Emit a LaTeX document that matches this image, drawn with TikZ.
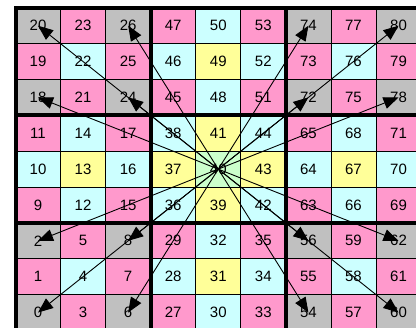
\documentclass[tikz,border=0pt]{standalone}
\usepackage{fontspec}
\setmainfont{Liberation Sans}
\usetikzlibrary{arrows.meta}
\definecolor{shade0}{HTML}{C0C0C0}
\definecolor{shade1}{HTML}{FF99CC}
\definecolor{shade2}{HTML}{CCFFFF}
\definecolor{shade3}{HTML}{FFFF99}
\definecolor{shade4}{HTML}{CCFFCC}

\tikzset{
  cell/.style={draw,line width=0.8pt,minimum width=45.06pt,minimum height=35.85pt,
    inner sep=0pt,outer sep=0pt,font=\fontsize{15}{15}\selectfont},
  block/.style={line width=4pt,line cap=rect},
  ray/.style={line width=0.9pt,-{Triangle[length=15pt,width=12pt]}}
}

\begin{document}
\begin{tikzpicture}[x=1pt,y=-1pt]
\useasboundingbox (0,0) rectangle (416,328);
% cells, numbered block by block
\foreach \c in {0,...,8}{
  \foreach \r in {0,...,8}{
    \pgfmathtruncatemacro{\n}{27*int(\c/3)+9*int(\r/3)+3*mod(\c,3)+mod(\r,3)}
    \pgfmathtruncatemacro{\k}{(mod(\c,3)==1)+(mod(\r,3)==1)+(int(\c/3)==1)+(int(\r/3)==1)}
    \node[cell,fill=shade\k] (c\n) at ({15.5+45.06*(\c+0.5)},{7.8+35.85*(8.5-\r)}) {\n};
  }
}
% block borders
\foreach \i in {0,3,6,9}{
  \draw[block] ({15.5+45.06*\i},7.8) -- ++(0,{9*35.85});
  \draw[block] (15.5,{7.8+35.85*\i}) -- ++({9*45.06},0);
}
% rays from the centre
\foreach \t in {20,26,18,24,74,80,72,78,2,8,0,6,56,62,54,60}
  \draw[ray] (c40.center) -- (c\t.center);
\end{tikzpicture}
\end{document}
